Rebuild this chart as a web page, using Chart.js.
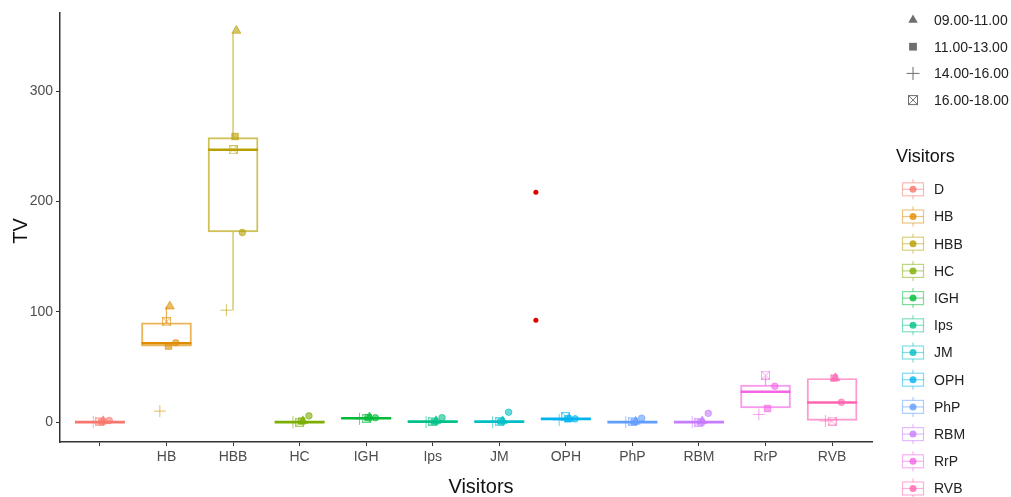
<!DOCTYPE html>
<html>
<head>
<meta charset="utf-8">
<title>TV by Visitors</title>
<script src="https://cdn.jsdelivr.net/npm/chart.js@4.4.0/dist/chart.umd.min.js"></script>
<style>
  body { margin: 0; background: #ffffff; }
</style>
</head>
<body>
<canvas id="boxChart" width="1011" height="497"></canvas>
<script>
// categories and tick labels (the first tick is blank in the original)
const visitors = ['D', 'HB', 'HBB', 'HC', 'IGH', 'Ips', 'JM', 'OPH', 'PhP', 'RBM', 'RrP', 'RVB'];
const tickLabels = ['', 'HB', 'HBB', 'HC', 'IGH', 'Ips', 'JM', 'OPH', 'PhP', 'RBM', 'RrP', 'RVB'];
const yTicks = [0, 100, 200, 300];
const timeSlots = ['09.00-11.00', '11.00-13.00', '14.00-16.00', '16.00-18.00'];

// box plot summary
const q1 =          [0,   69,   172.5, 0,   3,   0,   0,   2.5, 0,   0,   13,   1.5];
const median =      [0,   71.5, 247,   0,   3.5, 0.5, 0.5, 3,   0,   0,   27.5, 17.8];
const q3 =          [0.5, 90,   258,   0.5, 4,   1,   1,   3.5, 0.5, 0.5, 33.5, 39.6];
const whiskerLow =  [0,   69,   101.5, 0,   3,   0,   0,   2.5, 0,   0,   13,   1.5];
const whiskerHigh = [0.5, 105,  353,   0.5, 4,   1,   1,   3.5, 0.5, 0.5, 41.5, 39.6];

// observations per time slot
const tv0911 =  [1,   105, 355,   1,   4.5, 1,   1,   3,   0.5, 1,   null, 40];
const tv1113 =  [0.5, 69,  259,   1,   4,   0.5, 0.5, 3,   0.5, 0,   12.4, 40];
const tv1416 =  [0,   10,  101.5, 0,   3,   0,   0,   2,   0,   0,   7,    1];
const tv1618 =  [1,   91,  247,   0,   3.5, 1,   0.5, 5,   1,   0,   42.6, 1];
const tvOther = [1.5, 72,  172,   5.7, 4,   4,   9,   3,   3.6, 8,   32.6, 18];

// the two red points between JM and OPH
const outlierPos = [6.55, 6.55];
const outlierTV = [208.5, 92.5];

const hues = ['#F8766D', '#DE8C00', '#B79F00', '#7CAE00', '#00BA38', '#00C08B',
              '#00BFC4', '#00B4F0', '#619CFF', '#C77CFF', '#F564E3', '#FF64B0'];
const FONT = '"Liberation Sans", Arial, sans-serif';

function boxXImage(color) {
  const c = document.createElement('canvas');
  c.width = 9; c.height = 9;
  const g = c.getContext('2d');
  g.strokeStyle = color;
  g.lineWidth = 1;
  g.strokeRect(0.5, 0.5, 8, 8);
  g.beginPath();
  g.moveTo(0.5, 0.5); g.lineTo(8.5, 8.5);
  g.moveTo(8.5, 0.5); g.lineTo(0.5, 8.5);
  g.stroke();
  return c;
}
const boxXImgs = hues.map(h => boxXImage(h + '99'));

function pointSet(values, offset, style, radius) {
  return {
    type: 'scatter',
    data: values.map((v, i) => ({ x: i + offset, y: v })),
    pointStyle: style,
    pointRadius: radius,
    pointBackgroundColor: hues.map(h => h + '99'),
    pointBorderColor: hues.map(h => h + '99'),
    pointBorderWidth: 1,
  };
}

const datasets = [];

datasets.push({
  type: 'scatter',
  data: outlierPos.map((p, i) => ({ x: p, y: outlierTV[i] })),
  pointRadius: 2.5,
  pointBackgroundColor: '#e00000',
  pointBorderWidth: 0,
});

datasets.push(pointSet(tv0911, 0.05, 'triangle', 5.2));
datasets.push(pointSet(tv1113, 0.03, 'rect', 4.6));
datasets.push(pointSet(tv1416, -0.1, 'cross', 6));
datasets.push(pointSet(tv1618, 0.0, ctx => boxXImgs[ctx.dataIndex], 4));
datasets.push(pointSet(tvOther, 0.14, 'circle', 3.3));

visitors.forEach((v, i) => {
  datasets.push({
    type: 'line',
    data: [{ x: i - 0.375, y: median[i] }, { x: i + 0.375, y: median[i] }],
    borderColor: hues[i],
    borderWidth: 2.6,
    pointRadius: 0,
  });
  datasets.push({
    type: 'line',
    data: [
      { x: i, y: whiskerLow[i] }, { x: i, y: q1[i] }, { x: i, y: null },
      { x: i, y: q3[i] }, { x: i, y: whiskerHigh[i] },
    ],
    spanGaps: false,
    borderColor: hues[i] + 'A6',
    borderWidth: 1.3,
    pointRadius: 0,
  });
});

datasets.push({
  type: 'bar',
  data: visitors.map((v, i) => ({ x: i, y: [q1[i], q3[i]] })),
  backgroundColor: 'rgba(255,255,255,0)',
  borderColor: hues.map(h => h + 'A6'),
  borderWidth: 1.3,
  borderSkipped: false,
  barThickness: 50,
});

const legendPlugin = {
  id: 'legendPlugin',
  afterDraw(chart) {
    const ctx = chart.ctx;
    ctx.save();

    // axis titles
    ctx.fillStyle = '#111111';
    ctx.font = '20px ' + FONT;
    ctx.textAlign = 'center';
    ctx.textBaseline = 'middle';
    ctx.fillText('Visitors', 481, 487);
    ctx.save();
    ctx.translate(21, 231);
    ctx.rotate(-Math.PI / 2);
    ctx.fillText('TV', 0, 0);
    ctx.restore();

    // time slot legend
    const shapes = ['triangle', 'rect', 'cross', 'boxx'];
    const gray = '#6e6e6e';
    timeSlots.forEach((label, k) => {
      const y = 20 + k * 26.7;
      ctx.fillStyle = gray;
      ctx.strokeStyle = gray;
      if (shapes[k] === 'boxx') {
        ctx.lineWidth = 1;
        ctx.strokeRect(908.5, y - 4.5, 9, 9);
        ctx.beginPath();
        ctx.moveTo(908.5, y - 4.5); ctx.lineTo(917.5, y + 4.5);
        ctx.moveTo(917.5, y - 4.5); ctx.lineTo(908.5, y + 4.5);
        ctx.stroke();
      } else {
        Chart.helpers.drawPoint(ctx, {
          pointStyle: shapes[k],
          radius: shapes[k] === 'cross' ? 6.5 : 5.5,
          rotation: 0,
          borderWidth: shapes[k] === 'cross' ? 1 : 0,
        }, 913, y);
      }
      ctx.fillStyle = '#222222';
      ctx.font = '14px ' + FONT;
      ctx.textAlign = 'left';
      ctx.fillText(label, 934, y + 1);
    });

    // visitors legend
    ctx.fillStyle = '#111111';
    ctx.font = '18px ' + FONT;
    ctx.textAlign = 'left';
    ctx.fillText('Visitors', 896, 157);

    visitors.forEach((label, i) => {
      const y = 189.3 + i * 27.2;
      const c = hues[i];
      ctx.strokeStyle = c + '80';
      ctx.lineWidth = 1.2;
      ctx.beginPath();
      ctx.moveTo(913, y - 10); ctx.lineTo(913, y - 6.5);
      ctx.moveTo(913, y + 6.5); ctx.lineTo(913, y + 10);
      ctx.stroke();
      ctx.strokeRect(902.5, y - 6.5, 21, 13);
      ctx.beginPath();
      ctx.moveTo(902.5, y); ctx.lineTo(923.5, y);
      ctx.stroke();
      ctx.fillStyle = c + 'CC';
      ctx.beginPath();
      ctx.arc(913, y, 3.5, 0, Math.PI * 2);
      ctx.fill();
      ctx.fillStyle = '#222222';
      ctx.font = '14px ' + FONT;
      ctx.fillText(label, 934, y + 1);
    });

    ctx.restore();
  }
};

const ctx = document.getElementById('boxChart');

new Chart(ctx, {
  type: 'scatter',
  data: { datasets: datasets },
  options: {
    responsive: false,
    animation: false,
    layout: { padding: { top: 13, right: 139, left: 0, bottom: 0 } },
    plugins: { legend: { display: false }, tooltip: { enabled: false } },
    scales: {
      x: {
        type: 'linear',
        min: -0.6,
        max: 11.6,
        offset: false,
        afterBuildTicks: s => { s.ticks = visitors.map((v, i) => ({ value: i })); },
        afterFit: s => { s.height = 55; },
        ticks: {
          callback: v => tickLabels[v],
          autoSkip: false,
          maxRotation: 0,
          color: '#4d4d4d',
          font: { size: 14, family: FONT },
          padding: 3,
        },
        grid: { display: true, drawOnChartArea: false, tickLength: 4, color: '#333333', offset: false },
        border: { display: true, color: '#333333', width: 1.5 },
      },
      y: {
        min: -18,
        max: 371,
        afterBuildTicks: s => { s.ticks = yTicks.map(v => ({ value: v })); },
        afterFit: s => { s.width = 60; },
        ticks: {
          color: '#4d4d4d',
          font: { size: 14, family: FONT },
          padding: 3,
        },
        grid: { display: true, drawOnChartArea: false, tickLength: 4, color: '#333333' },
        border: { display: true, color: '#333333', width: 1.5 },
      },
    },
  },
  plugins: [legendPlugin],
});
</script>
</body>
</html>
